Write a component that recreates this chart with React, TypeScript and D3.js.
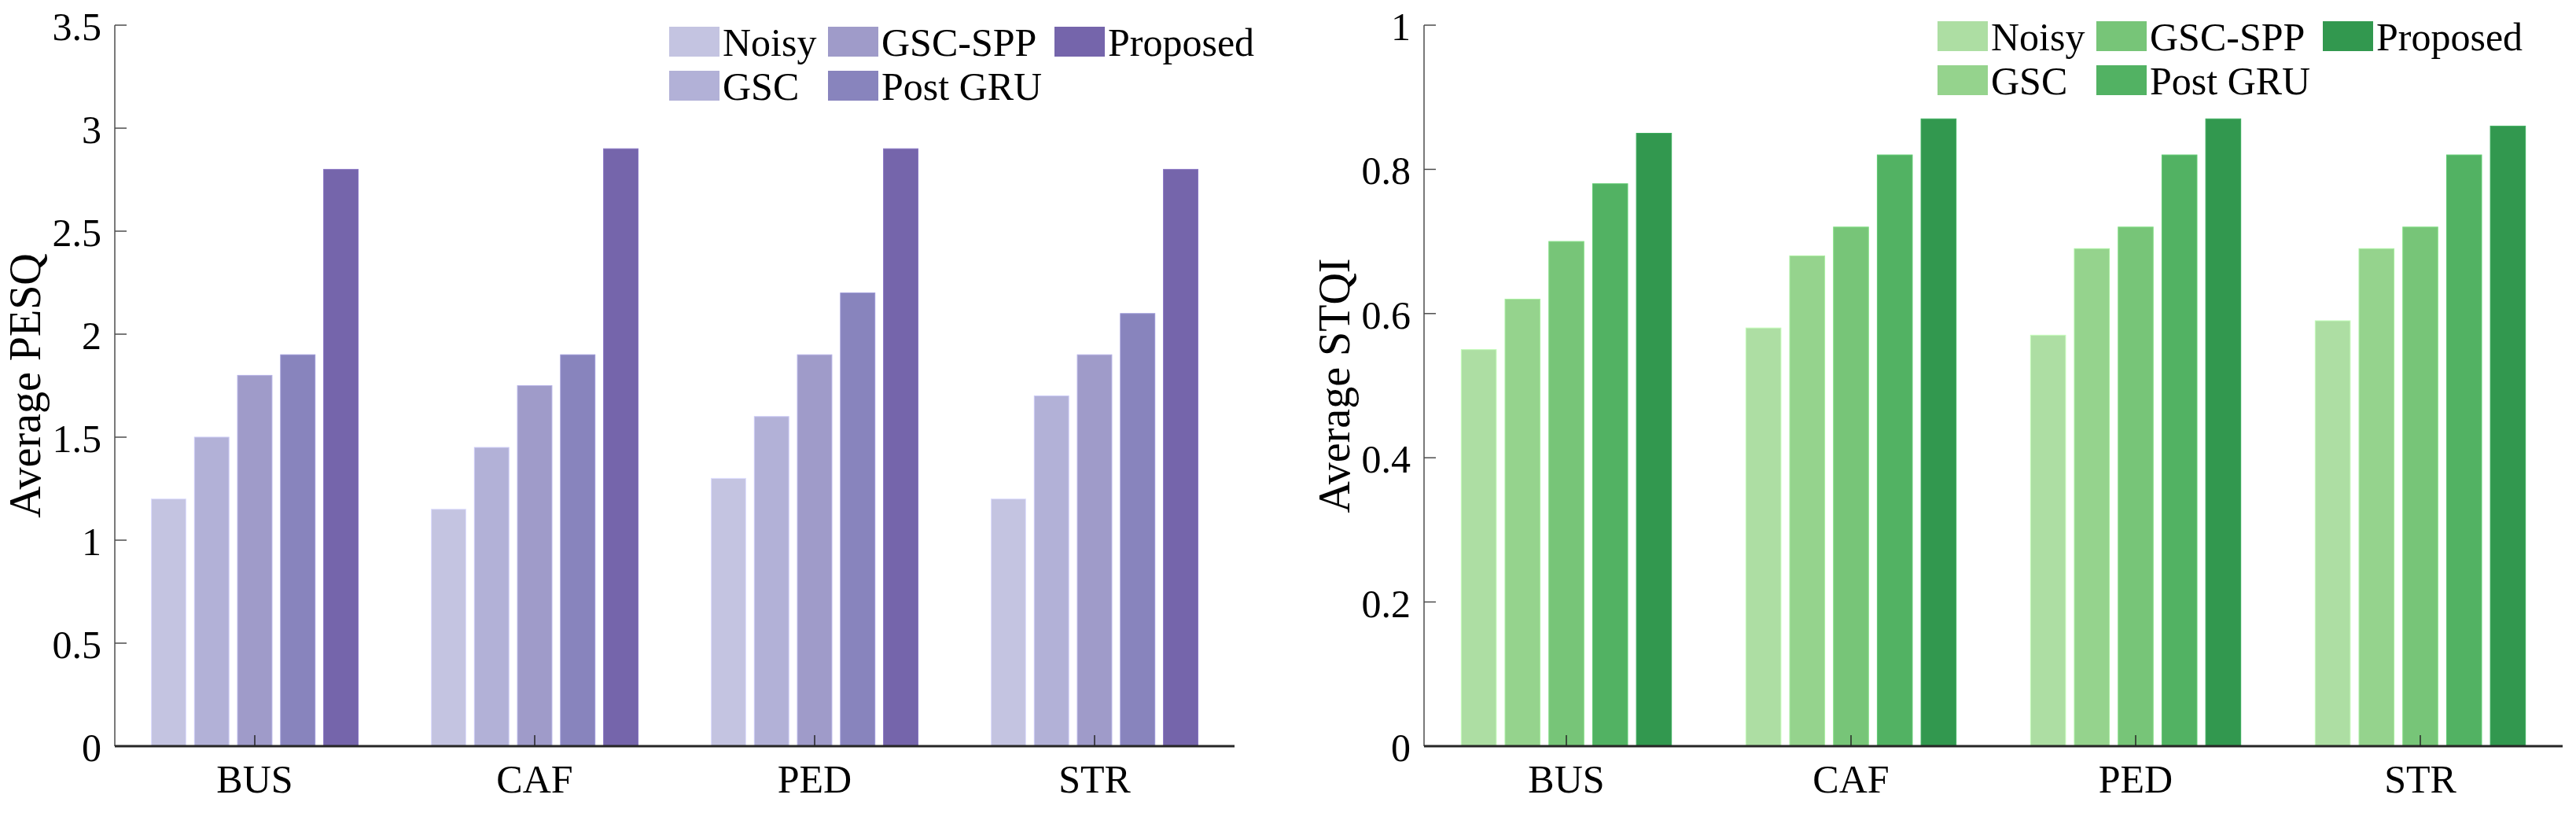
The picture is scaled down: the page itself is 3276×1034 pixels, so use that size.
import React from 'react';
import * as d3 from 'd3';

const categories = ['BUS', 'CAF', 'PED', 'STR'];
const methods = ['Noisy', 'GSC', 'GSC-SPP', 'Post GRU', 'Proposed'];

// PESQ per method, one value per category
const pesqNoisy = [1.2, 1.15, 1.3, 1.2];
const pesqGsc = [1.5, 1.45, 1.6, 1.7];
const pesqGscSpp = [1.8, 1.75, 1.9, 1.9];
const pesqPostGru = [1.9, 1.9, 2.2, 2.1];
const pesqProposed = [2.8, 2.9, 2.9, 2.8];

// STOI per method
const stoiNoisy = [0.55, 0.58, 0.57, 0.59];
const stoiGsc = [0.62, 0.68, 0.69, 0.69];
const stoiGscSpp = [0.7, 0.72, 0.72, 0.72];
const stoiPostGru = [0.78, 0.82, 0.82, 0.82];
const stoiProposed = [0.85, 0.87, 0.87, 0.86];

const pesqTicks = [0, 0.5, 1, 1.5, 2, 2.5, 3, 3.5];
const pesqTickLabels = ['0', '0.5', '1', '1.5', '2', '2.5', '3', '3.5'];
const stoiTicks = [0, 0.2, 0.4, 0.6, 0.8, 1];
const stoiTickLabels = ['0', '0.2', '0.4', '0.6', '0.8', '1'];

const purples = ['#c4c4e1', '#b2b1d7', '#9f9bc9', '#8884bd', '#7565ab'];
const greens = ['#addea3', '#95d38d', '#77c578', '#52b263', '#32984f'];

const FONT = '"Liberation Serif", "Times New Roman", serif';
const AXIS = '#262626';
const YAXIS = '#4d4d4d';

interface PanelProps {
  x0: number;
  x1: number;
  top: number;
  bottom: number;
  yMax: number;
  ticks: number[];
  tickLabels: string[];
  series: number[][];
  colors: string[];
  ylabel: string;
  legendX: number;
  legendY: number;
}

const legendCols = [0, 202, 490];

const Panel: React.FC<PanelProps> = ({
  x0, x1, top, bottom, yMax, ticks, tickLabels, series, colors, ylabel, legendX, legendY,
}) => {
  const x = d3.scaleBand<string>().domain(categories).range([x0, x1]).padding(0);
  // matlab style grouped bars
  const groupWidth = x.bandwidth() * (methods.length / (methods.length + 1.5));
  const xm = d3
    .scaleBand<string>()
    .domain(methods)
    .range([-groupWidth / 2, groupWidth / 2])
    .paddingInner(0.2)
    .paddingOuter(0.1);
  const y = d3.scaleLinear().domain([0, yMax]).range([bottom, top]);

  return (
    <g>
      {methods.map((m, mi) =>
        categories.map((c, ci) => (
          <rect
            key={m + c}
            x={(x(c) || 0) + x.bandwidth() / 2 + (xm(m) || 0)}
            y={y(series[mi][ci])}
            width={xm.bandwidth()}
            height={y(0) - y(series[mi][ci])}
            fill={colors[mi]}
            stroke={d3.color(colors[mi])!.brighter(0.35).formatHex()}
            strokeWidth={1}
          />
        ))
      )}

      {/* y axis */}
      <line x1={x0} x2={x0} y1={top} y2={bottom} stroke={YAXIS} strokeWidth={1.5} />
      {ticks.map((t, i) => (
        <g key={t}>
          <line x1={x0} x2={x0 + 15} y1={y(t)} y2={y(t)} stroke={YAXIS} strokeWidth={1.5} />
          <text
            x={x0 - 17}
            y={y(t)}
            dy="0.38em"
            textAnchor="end"
            fontFamily={FONT}
            fontSize={50}
            fill="#000"
          >
            {tickLabels[i]}
          </text>
        </g>
      ))}

      {/* x axis */}
      <line x1={x0} x2={x1} y1={bottom} y2={bottom} stroke={AXIS} strokeWidth={3} />
      {categories.map((c) => {
        const cx = (x(c) || 0) + x.bandwidth() / 2;
        return (
          <g key={c}>
            <line x1={cx} x2={cx} y1={bottom} y2={bottom - 14} stroke={AXIS} strokeWidth={1.5} />
            <text x={cx} y={bottom + 59} textAnchor="middle" fontFamily={FONT} fontSize={50} fill="#000">
              {c}
            </text>
          </g>
        );
      })}

      <text
        transform={`translate(${x0 - 95},${(top + bottom) / 2}) rotate(-90)`}
        textAnchor="middle"
        fontFamily={FONT}
        fontSize={56}
        fill="#000"
      >
        {ylabel}
      </text>

      {/* legend, 2 rows, filled column by column */}
      {methods.map((m, mi) => {
        const col = Math.floor(mi / 2);
        const row = mi % 2;
        const lx = legendX + legendCols[col];
        const ly = legendY + row * 56;
        return (
          <g key={m}>
            <rect x={lx} y={ly} width={64} height={38} fill={colors[mi]} />
            <text x={lx + 68} y={ly + 37} fontFamily={FONT} fontSize={50} fill="#000">
              {m}
            </text>
          </g>
        );
      })}
    </g>
  );
};

export default function App() {
  return (
    <svg
      width={3276}
      height={1034}
      style={{ position: 'absolute', left: 0, top: 0, background: '#fff' }}
    >
      <rect width={3276} height={1034} fill="#fff" />
      <Panel
        x0={146}
        x1={1570}
        top={32}
        bottom={949}
        yMax={3.5}
        ticks={pesqTicks}
        tickLabels={pesqTickLabels}
        series={[pesqNoisy, pesqGsc, pesqGscSpp, pesqPostGru, pesqProposed]}
        colors={purples}
        ylabel="Average PESQ"
        legendX={851}
        legendY={34}
      />
      <Panel
        x0={1811}
        x1={3259}
        top={32}
        bottom={949}
        yMax={1}
        ticks={stoiTicks}
        tickLabels={stoiTickLabels}
        series={[stoiNoisy, stoiGsc, stoiGscSpp, stoiPostGru, stoiProposed]}
        colors={greens}
        ylabel="Average STQI"
        legendX={2464}
        legendY={27}
      />
    </svg>
  );
}
